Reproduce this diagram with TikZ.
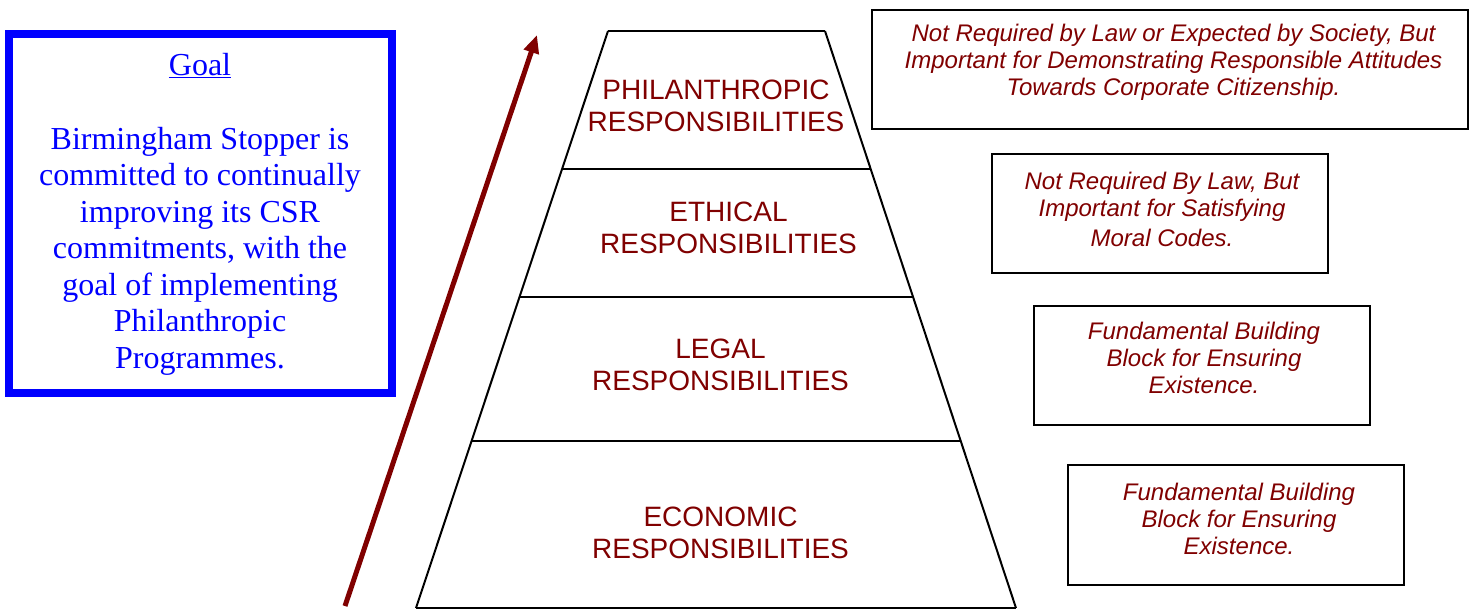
\documentclass[tikz,border=0pt]{standalone}
\usepackage{fontspec}
\setmainfont{Liberation Serif}
\setsansfont{Liberation Sans}
\usetikzlibrary{arrows.meta}
\definecolor{maroonred}{HTML}{800000}
\tikzset{
  tier/.style={line width=2pt, black},
  tiertext/.style={text=maroonred, align=center, font=\sffamily\fontsize{28}{32}\selectfont, inner sep=0pt},
  notebox/.style={draw=black, line width=2pt, minimum width=336pt, minimum height=119pt, inner sep=0pt},
  notetext/.style={text=maroonred, align=center, font=\sffamily\itshape\fontsize{24}{27}\selectfont, inner sep=0pt},
  goaltext/.style={text=blue, align=center, font=\fontsize{32}{36.5}\selectfont, inner sep=0pt}
}
\begin{document}
\begin{tikzpicture}[x=1pt,y=-1pt]
\useasboundingbox (0,0) rectangle (1470,610);
\fill[white] (0,0) rectangle (1470,610);

% pyramid
\coordinate (tl) at (608,31);
\coordinate (tr) at (825,31);
\coordinate (bl) at (416,608);
\coordinate (br) at (1016,608);
\draw[tier] (tl) -- (tr);
\draw[tier] (tl) -- (bl);
\draw[tier] (tr) -- (br);
\draw[tier] (bl) -- (br);
\draw[tier] (562,169) -- (870,169);
\draw[tier] (520,297) -- (913,297);
\draw[tier] (472,441) -- (960,441);

\node[tiertext] (phil) at (716,106) {PHILANTHROPIC\\RESPONSIBILITIES};
\node[tiertext] (eth) at (728.5,228) {ETHICAL\\RESPONSIBILITIES};
\node[tiertext] (leg) at (720.5,365) {LEGAL\\RESPONSIBILITIES};
\node[tiertext] (eco) at (720.5,533) {ECONOMIC\\RESPONSIBILITIES};

% arrow
\coordinate (arrstart) at (345,606);
\coordinate (arrtip) at (537,35);
\draw[maroonred, line width=5pt, -{Triangle[length=18pt,width=15pt]}] (arrstart) -- (arrtip);

% goal box
\node[draw=blue, line width=8pt, minimum width=383pt, minimum height=359pt, inner sep=0pt] (goal) at (200.5,213.5) {};
\node[goaltext] (goaltitle) at (200,66) {\underline{Goal}};
\node[goaltext] (goalbody) at (200,251) {Birmingham Stopper is\\committed to continually\\improving its CSR\\commitments, with the\\goal of implementing\\Philanthropic\\Programmes.};

% note boxes
\node[notebox, minimum width=596pt] (n1) at (1170,69.5) {};
\node[notetext] (t1) at (1173.5,62) {Not Required by Law or Expected by Society, But\\Important for Demonstrating Responsible Attitudes\\Towards Corporate Citizenship.};

\node[notebox] (n2) at (1160,213.5) {};
\node[notetext] (t2) at (1162,209) {Not Required By Law, But\\Important for Satisfying\\[3pt]Moral Codes.};

\node[notebox] (n3) at (1202,365.5) {};
\node[notetext] (t3) at (1204,358) {Fundamental Building\\Block for Ensuring\\Existence.};

\node[notebox, minimum height=120pt] (n4) at (1236,525) {};
\node[notetext] (t4) at (1239,519) {Fundamental Building\\Block for Ensuring\\Existence.};
\end{tikzpicture}
\end{document}
